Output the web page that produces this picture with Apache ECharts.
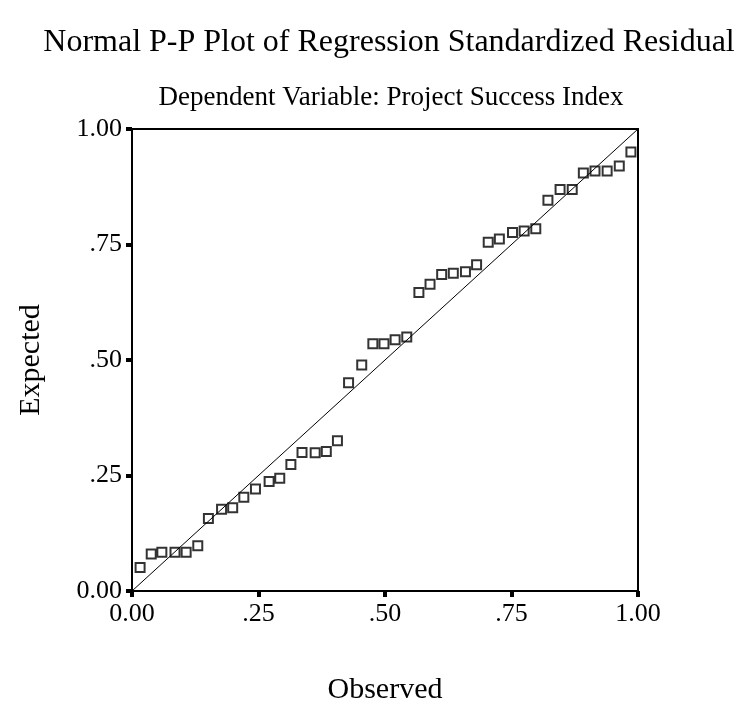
<!DOCTYPE html>
<html>
<head>
<meta charset="utf-8">
<script src="https://cdn.jsdelivr.net/npm/echarts@6/dist/echarts.min.js"></script>
<style>
html,body{margin:0;padding:0;background:#fff;}
#chart{width:734px;height:706px;}
</style>
</head>
<body>
<div id="chart"></div>
<script>
var titleText = 'Normal P-P Plot of Regression Standardized Residual';
var subtitleText = 'Dependent Variable: Project Success Index';
var xAxisName = 'Observed';
var yAxisName = 'Expected';
var tickValues = [0, 0.25, 0.5, 0.75, 1];
var tickLabels = ['0.00', '.25', '.50', '.75', '1.00'];

var observed = [0.016, 0.038, 0.059, 0.085, 0.107, 0.130, 0.151, 0.177, 0.199, 0.221,
  0.244, 0.271, 0.292, 0.314, 0.336, 0.362, 0.384, 0.406, 0.428, 0.454,
  0.476, 0.498, 0.520, 0.543, 0.567, 0.589, 0.612, 0.635, 0.659, 0.681,
  0.704, 0.726, 0.752, 0.775, 0.798, 0.822, 0.846, 0.870, 0.892, 0.915,
  0.939, 0.963, 0.986];
var expected = [0.051, 0.080, 0.084, 0.084, 0.084, 0.098, 0.157, 0.177, 0.180, 0.203,
  0.221, 0.237, 0.244, 0.274, 0.300, 0.299, 0.302, 0.325, 0.451, 0.489,
  0.535, 0.535, 0.544, 0.550, 0.646, 0.664, 0.685, 0.688, 0.691, 0.706,
  0.755, 0.762, 0.776, 0.779, 0.784, 0.846, 0.869, 0.869, 0.905, 0.909,
  0.909, 0.920, 0.950];
var refLine = [[0, 0], [1, 1]];

var font = 'Liberation Serif';
function fmt(v) {
  var i = tickValues.indexOf(Math.round(v * 100) / 100);
  return i >= 0 ? tickLabels[i] : '';
}
var points = observed.map(function (x, i) { return [x, expected[i]]; });

var chart = echarts.init(document.getElementById('chart'), null, {renderer: 'canvas'});
chart.setOption({
  backgroundColor: '#fff',
  animation: false,
  title: [
    {text: titleText, left: 384, top: 22, textAlign: 'center',
     textStyle: {fontFamily: font, fontSize: 32, fontWeight: 'normal', color: '#000'}},
    {text: subtitleText, left: 386, top: 79, textAlign: 'center',
     textStyle: {fontFamily: font, fontSize: 27, fontWeight: 'normal', color: '#000'}}
  ],
  grid: {left: 132, right: 96, top: 129, bottom: 115, show: true,
         outerBoundsMode: 'none', containLabel: false,
         borderColor: '#000', borderWidth: 2, backgroundColor: 'transparent'},
  xAxis: {
    type: 'value', min: 0, max: 1, interval: 0.25,
    name: xAxisName, nameLocation: 'middle', nameGap: 84,
    nameTextStyle: {fontFamily: font, fontSize: 30, color: '#000'},
    axisLine: {lineStyle: {color: '#000', width: 2}},
    axisTick: {length: 6, lineStyle: {color: '#000', width: 4}},
    axisLabel: {formatter: fmt, fontFamily: font, fontSize: 26, color: '#000', margin: 10},
    splitLine: {show: false}
  },
  yAxis: {
    type: 'value', min: 0, max: 1, interval: 0.25,
    name: yAxisName, nameLocation: 'middle', nameGap: 86,
    nameTextStyle: {fontFamily: font, fontSize: 30, color: '#000'},
    axisLine: {lineStyle: {color: '#000', width: 2}},
    axisTick: {length: 6, lineStyle: {color: '#000', width: 4}},
    axisLabel: {formatter: fmt, fontFamily: font, fontSize: 26, color: '#000', margin: 10},
    splitLine: {show: false}
  },
  series: [
    {type: 'line', data: refLine, symbol: 'none', silent: true,
     lineStyle: {color: '#000', width: 1}},
    {type: 'scatter', data: points, symbol: 'rect', symbolSize: 9,
     itemStyle: {color: '#fff', borderColor: '#000', borderWidth: 2}}
  ]
});
</script>
</body>
</html>
